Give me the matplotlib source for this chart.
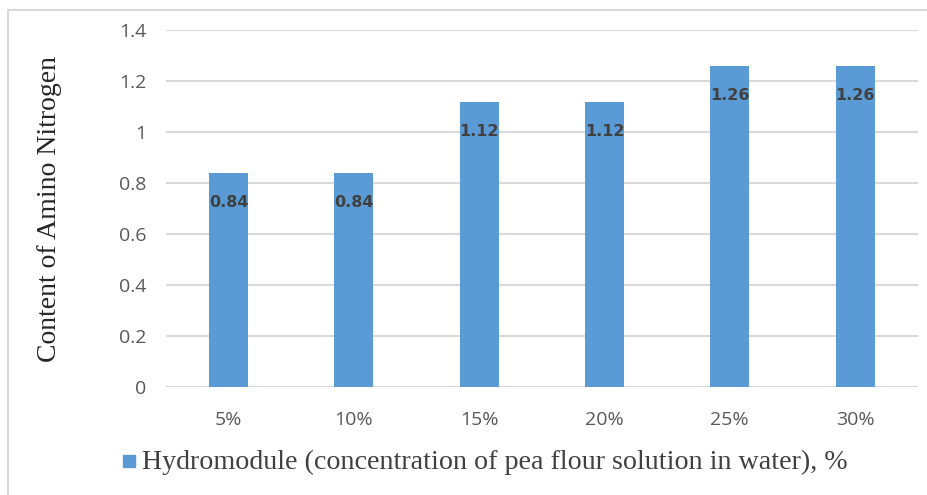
import matplotlib.pyplot as plt
from matplotlib.lines import Line2D

# datos del grafico
categorias = ["5%", "10%", "15%", "20%", "25%", "30%"]
valores = [0.84, 0.84, 1.12, 1.12, 1.26, 1.26]
etiquetas = ["0.84", "0.84", "1.12", "1.12", "1.26", "1.26"]
yticks = [0, 0.2, 0.4, 0.6, 0.8, 1, 1.2, 1.4]
ytick_labels = ["0", "0.2", "0.4", "0.6", "0.8", "1", "1.2", "1.4"]
serie = "Hydromodule (concentration of pea flour solution in water), %"

azul = "#5b9bd5"
gris = "#595959"

fig = plt.figure(figsize=(9.27, 4.95), dpi=100)
ax = fig.add_axes([0.179, 0.218, 0.811, 0.721])

x = range(len(categorias))
ax.bar(x, valores, width=0.31, color=azul, zorder=3)

# etiquetas dentro de las barras
for i, v in enumerate(valores):
    ax.annotate(etiquetas[i], (i, v), xytext=(0, -21.5), textcoords="offset points",
                ha="center", va="center", fontsize=11.5, fontweight="bold",
                color="#404040", family="DejaVu Sans", zorder=4)

ax.set_xlim(-0.5, len(categorias) - 0.5)
ax.set_ylim(0, 1.4)
ax.set_yticks(yticks)
ax.set_yticklabels(ytick_labels)
ax.set_xticks(list(x))
ax.set_xticklabels(categorias)
ax.tick_params(axis="both", length=0, labelsize=14, labelcolor=gris)
ax.tick_params(axis="x", pad=17)
ax.tick_params(axis="y", pad=14)
for lab in ax.get_xticklabels() + ax.get_yticklabels():
    lab.set_family("Open Sans")

ax.grid(axis="y", color="#d9d9d9", linewidth=1.5, zorder=0)
for s in ax.spines.values():
    s.set_visible(False)

ax.set_ylabel("Content of Amino Nitrogen", family="Liberation Serif", fontsize=20,
              color="#262626")
ax.yaxis.set_label_coords(-0.138, 0.5)

# leyenda abajo
fig.patches.append(plt.Rectangle((123 / 927, 1 - 467 / 495), 12 / 927, 12 / 495,
                                 transform=fig.transFigure, color=azul))
fig.text(142 / 927, 1 - 462 / 495, serie, family="Liberation Serif", fontsize=20.2,
         color="#404040", va="center", ha="left")

# borde del grafico
fig.lines.append(Line2D([8 / 927, 8 / 927], [0, 1 - 10 / 495], transform=fig.transFigure,
                        color="#d9d9d9", linewidth=1.5))
fig.lines.append(Line2D([8 / 927, 1], [1 - 10 / 495, 1 - 10 / 495], transform=fig.transFigure,
                        color="#d9d9d9", linewidth=1.5))

plt.savefig("out.png", dpi=100)
